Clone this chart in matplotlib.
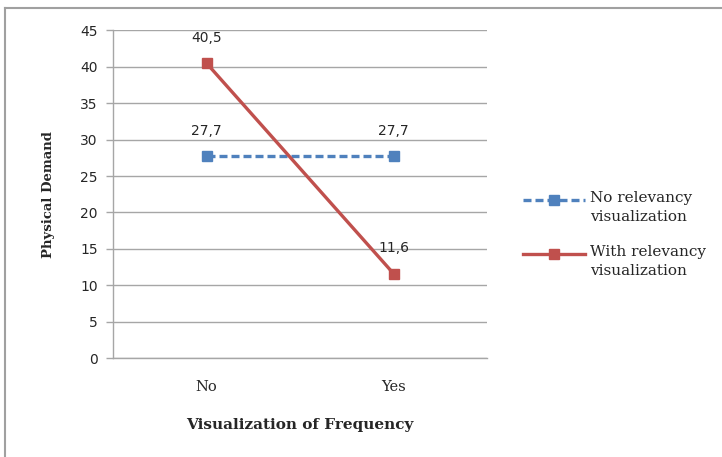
import matplotlib
matplotlib.use("Agg")
import matplotlib.pyplot as plt
from matplotlib.lines import Line2D

# Category axis and the two series
categories = ["No", "Yes"]
no_relevancy = [27.7, 27.7]
with_relevancy = [40.5, 11.6]
y_ticks = [0, 5, 10, 15, 20, 25, 30, 35, 40, 45]
series_names = ["No relevancy\nvisualization", "With relevancy\nvisualization"]

blue = "#4F81BD"
red = "#C0504D"
grid_gray = "#A6A6A6"
text_dark = "#262626"
serif = ["DejaVu Serif"]

fig = plt.figure(figsize=(7.22, 4.57), dpi=100)
ax = fig.add_axes([113 / 722, 1 - 358 / 457, 374 / 722, (358 - 30.4) / 457])

blue_style = dict(color=blue, linestyle=(0, (2.4, 1.2)), linewidth=2.4,
                  marker="s", markersize=7, markerfacecolor=blue, markeredgecolor=blue)
red_style = dict(color=red, linestyle="-", linewidth=2.4,
                 marker="s", markersize=7, markerfacecolor=red, markeredgecolor=red)

xs = [0.5, 1.5]
ax.plot(xs, no_relevancy, zorder=3, **blue_style)
ax.plot(xs, with_relevancy, zorder=4, **red_style)

# Value labels above each point
for series in (no_relevancy, with_relevancy):
    for x, v in zip(xs, series):
        ax.annotate(f"{v:.1f}".replace(".", ","), (x, v), xytext=(0, 13),
                    textcoords="offset points", ha="center", va="bottom",
                    fontsize=10, color=text_dark)

ax.set_xlim(0, 2)
ax.set_ylim(0, 45)
ax.set_yticks(y_ticks)
ax.set_yticklabels([str(t) for t in y_ticks], fontsize=10, color=text_dark)
ax.set_xticks(xs)
ax.set_xticklabels(categories, fontsize=10.5, color=text_dark, fontfamily=serif)
ax.tick_params(axis="x", length=0, pad=16)
ax.tick_params(axis="y", length=5, width=1, color=grid_gray, pad=6)

ax.yaxis.grid(True, color=grid_gray, linewidth=1)
ax.set_axisbelow(True)
for side in ["top", "right"]:
    ax.spines[side].set_visible(False)
for side in ["left", "bottom"]:
    ax.spines[side].set_color(grid_gray)
    ax.spines[side].set_linewidth(1)

ax.set_ylabel("Physical Demand", fontsize=9.5, fontweight="bold",
              fontfamily=serif, labelpad=18, color=text_dark)
ax.set_xlabel("Visualization of Frequency", fontsize=11, fontweight="bold",
              fontfamily=serif, labelpad=17, color=text_dark)

# Legend drawn by hand so the sample line sits beside the first text line
for (style, name, y) in zip((blue_style, red_style), series_names, (200, 254)):
    yf = 1 - y / 457
    fig.add_artist(Line2D([523 / 722, 585 / 722], [yf, yf], transform=fig.transFigure,
                          **{k: v for k, v in style.items()
                             if not k.startswith("marker")}))
    fig.add_artist(Line2D([554 / 722], [yf], transform=fig.transFigure,
                          linestyle="none", marker="s", markersize=7,
                          markerfacecolor=style["color"], markeredgecolor=style["color"]))
    fig.text(590 / 722, yf + 9 / 457, name, ha="left", va="top", fontsize=11,
             fontfamily=serif, color=text_dark, linespacing=1.45)

# Outer frame lines along the top and left edges
fig.add_artist(Line2D([5 / 722, 1.0], [1 - 8 / 457, 1 - 8 / 457],
                      transform=fig.transFigure, color="#A0A0A0", linewidth=1.5))
fig.add_artist(Line2D([5 / 722, 5 / 722], [0, 1 - 8 / 457],
                      transform=fig.transFigure, color="#A0A0A0", linewidth=1.5))

fig.savefig("out.png", dpi=100)
